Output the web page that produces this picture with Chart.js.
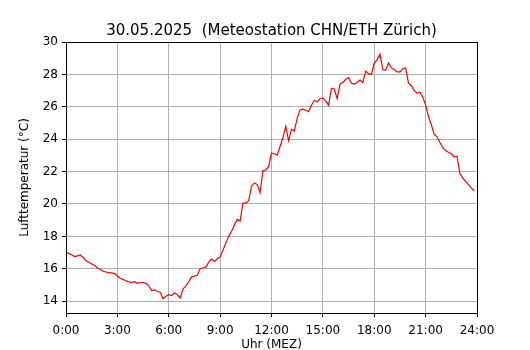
<!DOCTYPE html>
<html>
<head>
<meta charset="utf-8">
<script src="https://cdn.jsdelivr.net/npm/chart.js@4"></script>
<style>
  body { margin: 0; background: #fff; }
  #wrap { width: 530px; height: 350px; }
</style>
</head>
<body>
<div id="wrap"><canvas id="temp_chart"></canvas></div>
<script>
var chartTitle = '30.05.2025  (Meteostation CHN/ETH Zürich)';
var xLabel = 'Uhr (MEZ)';
var yLabel = 'Lufttemperatur (°C)';

// one value every 10 minutes, 0:00 .. 23:50
var temps = [
  17.0, 16.95, 16.85, 16.75, 16.8, 16.85,
  16.7, 16.5, 16.4, 16.3, 16.2, 16.05,
  15.95, 15.85, 15.8, 15.75, 15.75, 15.7,
  15.55, 15.4, 15.35, 15.25, 15.2, 15.15,
  15.2, 15.1, 15.15, 15.15, 15.1, 14.95,
  14.65, 14.7, 14.6, 14.55, 14.15, 14.3,
  14.4, 14.35, 14.5, 14.4, 14.2, 14.75,
  14.95, 15.2, 15.5, 15.55, 15.6, 16.0,
  16.05, 16.1, 16.4, 16.6, 16.45, 16.6,
  16.75, 17.15, 17.6, 18.0, 18.3, 18.7,
  19.05, 18.95, 20.05, 20.05, 20.2, 21.1,
  21.3, 21.2, 20.7, 22.05, 22.1, 22.3,
  23.15, 23.1, 23.0, 23.55, 24.1, 24.8,
  23.9, 24.6, 24.5, 25.3, 25.8, 25.85,
  25.8, 25.7, 26.1, 26.4, 26.3, 26.5,
  26.55, 26.35, 26.1, 27.15, 27.1, 26.5,
  27.4, 27.5, 27.7, 27.8, 27.45, 27.4,
  27.5, 27.65, 27.5, 28.2, 28.05, 28.0,
  28.7, 28.9, 29.25, 28.3, 28.25, 28.7,
  28.4, 28.3, 28.15, 28.15, 28.35, 28.4,
  27.45, 27.3, 27.0, 26.85, 26.9, 26.6,
  26.1, 25.4, 24.9, 24.3, 24.15, 23.8,
  23.5, 23.3, 23.2, 23.1, 22.9, 22.95,
  21.9, 21.6, 21.4, 21.2, 21.0, 20.8
];
var hourTicks = [0, 3, 6, 9, 12, 15, 18, 21, 24];
var tempTicks = [14, 16, 18, 20, 22, 24, 26, 28, 30];

var points = temps.map(function (t, i) {
  return { x: i / 6, y: t };
});

var font = { family: 'DejaVu Sans', size: 12 };

var frame_plugin = {
  id: 'frame',
  afterDraw: function (chart) {
    var ctx = chart.ctx, a = chart.chartArea;
    ctx.save();
    ctx.strokeStyle = '#000';
    ctx.lineWidth = 1;
    ctx.strokeRect(Math.round(a.left) + 0.5, Math.round(a.top) + 0.5,
      Math.round(a.right - a.left), Math.round(a.bottom - a.top));
    ctx.fillStyle = '#000';
    ctx.font = '15px "DejaVu Sans"';
    ctx.textAlign = 'center';
    ctx.textBaseline = 'middle';
    ctx.fillText(chartTitle, (a.left + a.right) / 2, a.top - 11);
    ctx.restore();
  }
};

var config = {
  type: 'line',
  data: {
    datasets: [{
      data: points,
      borderColor: '#ff0000',
      borderWidth: 1.2,
      pointRadius: 0,
      tension: 0,
      fill: false
    }]
  },
  options: {
    responsive: true,
    maintainAspectRatio: false,
    animation: false,
    layout: { padding: { left: 0, right: 53, top: 42, bottom: 0 } },
    plugins: {
      legend: { display: false },
      tooltip: { enabled: false }
    },
    scales: {
      x: {
        type: 'linear',
        min: 0,
        max: 24,
        afterFit: function (scale) { scale.height = 37; },
        afterBuildTicks: function (scale) {
          scale.ticks = hourTicks.map(function (v) { return { value: v }; });
        },
        ticks: {
          color: '#000',
          font: font,
          padding: 7,
          maxRotation: 0,
          callback: function (v) { return v + ':00'; }
        },
        grid: { color: '#b0b0b0', lineWidth: 1, tickLength: 4, tickColor: '#000' },
        border: { color: '#000', width: 1 },
        title: { display: true, text: xLabel, color: '#000', font: font, padding: { top: 0, bottom: -2 } }
      },
      y: {
        min: 13.27,
        max: 30,
        afterFit: function (scale) { scale.width = 66; },
        afterBuildTicks: function (scale) {
          scale.ticks = tempTicks.map(function (v) { return { value: v }; });
        },
        ticks: { color: '#000', font: font, padding: 4 },
        grid: { color: '#b0b0b0', lineWidth: 1, tickLength: 4, tickColor: '#000' },
        border: { color: '#000', width: 1 },
        title: { display: true, text: yLabel, color: '#000', font: font, padding: { top: 18, bottom: 0 } }
      }
    }
  },
  plugins: [frame_plugin]
};

window.onload = function () {
  var ctx = document.getElementById('temp_chart').getContext('2d');
  var chart = new Chart(ctx, config);
};
</script>
</body>
</html>
